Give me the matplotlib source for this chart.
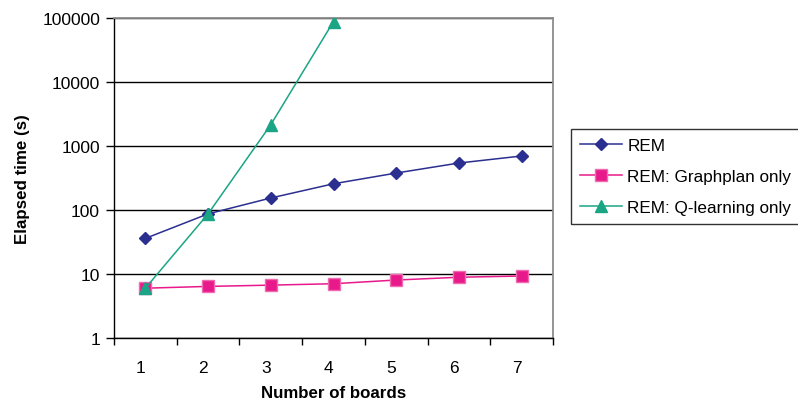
import matplotlib
matplotlib.use("Agg")
import matplotlib.pyplot as plt
import matplotlib.transforms as mtransforms
import numpy as np

plt.rcParams['font.family'] = ['Liberation Sans', 'DejaVu Sans']

boards = [1, 2, 3, 4, 5, 6, 7]
rem = [36, 87, 154, 257, 378, 542, 698]
graphplan_only = [6.0, 6.4, 6.7, 7.05, 8.05, 8.9, 9.3]
qlearning_boards = [1, 2, 3, 4]
qlearning_only = [6.0, 87, 2150, 88000]
series_names = ["REM", "REM: Graphplan only", "REM: Q-learning only"]
y_ticks = [1, 10, 100, 1000, 10000, 100000]

fig = plt.figure(figsize=(7.98, 4.02), dpi=100)
ax = fig.add_axes([114/798, 1-339/402, (553-114)/798, (339-19)/402])

ax.plot(boards, rem, color='#2B2F8F', lw=1.1, marker='D', ms=6.5,
        markerfacecolor='#2B2F8F', markeredgecolor='#2B2F8F', label=series_names[0], zorder=3)
ax.plot(boards, graphplan_only, color='#E8198B', lw=1.1, marker='s', ms=8,
        markerfacecolor='#E8198B', markeredgecolor='#F06AB0', label=series_names[1], zorder=3)
ax.plot(qlearning_boards, qlearning_only, color='#1AA585', lw=1.1, marker='^', ms=8.5,
        markerfacecolor='#1AA585', markeredgecolor='#1AA585', label=series_names[2], zorder=4)

ax.set_yscale('log')
ax.set_ylim(1, 100000)
ax.set_xlim(0.5, 7.5)
ax.set_yticks(y_ticks)
ax.set_yticklabels([str(v) for v in y_ticks])
ax.yaxis.set_minor_locator(matplotlib.ticker.NullLocator())
ax.grid(axis='y', which='major', color='black', lw=1.0, zorder=1)

ax.set_xticks(np.arange(0.5, 8.0, 1.0))
ax.set_xticklabels([])
ax.set_xticks(boards, minor=True)
ax.set_xticklabels([str(b) for b in boards], minor=True)
ax.tick_params(axis='x', which='minor', length=0, pad=16, labelsize=12.5)
ax.tick_params(axis='x', which='major', length=5, width=1, color='black', direction='out')
ax.tick_params(axis='y', which='major', length=6, width=1, color='black', direction='out', labelsize=12.5, pad=4)
offset = mtransforms.ScaledTranslation(-5/100, 0, fig.dpi_scale_trans)
for lbl in ax.xaxis.get_minorticklabels():
    lbl.set_transform(lbl.get_transform() + offset)

for side in ['left', 'bottom']:
    ax.spines[side].set_color('black')
    ax.spines[side].set_linewidth(1.0)
for side in ['top', 'right']:
    ax.spines[side].set_color('#8C8C8C')
    ax.spines[side].set_linewidth(1.3)

ax.set_xlabel("Number of boards", fontsize=12.2, fontweight='bold', labelpad=7)
ax.set_ylabel("Elapsed time (s)", fontsize=12.2, fontweight='bold', labelpad=9)

leg = fig.legend(loc='upper left', bbox_to_anchor=(571/798, 1-130/402), fontsize=12.3,
                 frameon=True, fancybox=False, edgecolor='black', handlelength=2.5,
                 borderpad=0.5, labelspacing=0.95, handletextpad=0.3, borderaxespad=0)
leg.get_frame().set_linewidth(1.0)

fig.savefig("out.png", dpi=100)
